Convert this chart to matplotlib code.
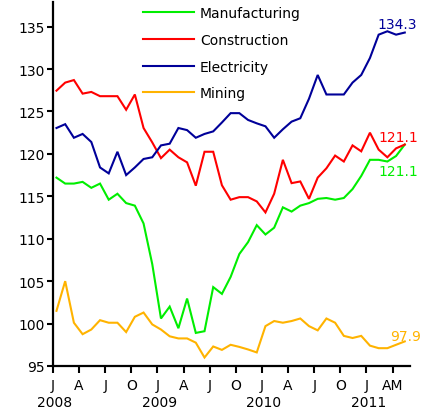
import numpy as np
import matplotlib
matplotlib.use("Agg")
import matplotlib.pyplot as plt
import matplotlib.transforms as mtransforms

plt.rcParams['font.family'] = ['DejaVu Sans']

series_names = ["Manufacturing", "Construction", "Electricity", "Mining"]
colors = ["#00EE00", "#FF0000", "#000099", "#FFB300"]

manufacturing = [117.2, 116.5, 116.5, 116.7, 116.0, 116.5, 114.6, 115.3, 114.2, 113.9,
                 111.8, 107.0, 100.6, 102.0, 99.45, 102.95, 98.9, 99.1, 104.3, 103.5,
                 105.5, 108.2, 109.6, 111.6, 110.5, 111.3, 113.7, 113.2, 113.9, 114.2,
                 114.7, 114.8, 114.6, 114.8, 115.85, 117.4, 119.3, 119.3, 119.1, 119.75, 121.1]
construction = [127.45, 128.4, 128.7, 127.1, 127.3, 126.8, 126.8, 126.8, 125.2, 127.0,
                123.05, 121.35, 119.5, 120.5, 119.6, 119.0, 116.25, 120.25, 120.25, 116.3,
                114.6, 114.9, 114.9, 114.4, 113.1, 115.3, 119.3, 116.55, 116.75, 114.7,
                117.2, 118.3, 119.8, 119.1, 121.0, 120.3, 122.5, 120.5, 119.6, 120.65, 121.1]
electricity = [123.05, 123.5, 121.9, 122.35, 121.4, 118.4, 117.7, 120.25, 117.5, 118.4,
               119.4, 119.6, 121.0, 121.2, 123.05, 122.8, 121.9, 122.35, 122.65, 123.7,
               124.8, 124.8, 124.0, 123.6, 123.25, 121.9, 122.9, 123.8, 124.2, 126.5,
               129.3, 127.0, 127.0, 127.0, 128.4, 129.3, 131.3, 134.05, 134.45, 134.05, 134.3]
mining = [101.5, 105.0, 100.1, 98.75, 99.3, 100.4, 100.1, 100.1, 99.0, 100.8,
          101.3, 99.9, 99.3, 98.5, 98.25, 98.25, 97.75, 96.0, 97.3, 96.9,
          97.5, 97.25, 96.95, 96.6, 99.7, 100.3, 100.1, 100.3, 100.6, 99.7,
          99.2, 100.6, 100.1, 98.55, 98.3, 98.55, 97.4, 97.1, 97.1, 97.5, 97.9]

end_labels = ["121.1", "121.1", "134.3", "97.9"]
month_tick_labels = ["J", "A", "J", "O", "J", "A", "J", "O", "J", "A", "J", "O", "J", "AM"]
month_tick_index = [0, 3, 6, 9, 12, 15, 18, 21, 24, 27, 30, 33, 36, 39]
year_labels = ["2008", "2009", "2010", "2011"]
year_index = [0, 12, 24, 36]
y_ticks = [95, 100, 105, 110, 115, 120, 125, 130, 135]

data = [manufacturing, construction, electricity, mining]

fig = plt.figure(figsize=(4.26, 4.14), dpi=100)
ax = fig.add_axes([53/426, 47/414, 357/426, 364/414])

x = np.arange(len(manufacturing))
for name, vals, c in zip(series_names, data, colors):
    ax.plot(x, vals, color=c, lw=1.5, label=name, solid_joinstyle='miter')

ax.set_xlim(-0.4, 40.6)
ax.set_ylim(95, 137.9)
ax.set_yticks(y_ticks)
ax.set_yticklabels([str(v) for v in y_ticks], fontsize=10)
ax.set_xticks([i - 0.4 for i in month_tick_index])
ax.set_xticklabels(month_tick_labels, fontsize=10)
ax.tick_params(axis='y', direction='out', length=4, width=1.5, pad=2)
ax.tick_params(axis='x', direction='out', length=5, width=1.5, pad=4)
for s in ['top', 'right']:
    ax.spines[s].set_visible(False)
for s in ['left', 'bottom']:
    ax.spines[s].set_linewidth(1.6)

trans = mtransforms.blended_transform_factory(ax.transData, ax.transAxes)
for lab, idx in zip(year_labels, year_index):
    ax.text(idx - 0.2, -0.099, lab, transform=trans, ha='center', va='center', fontsize=10)

# end labels
offsets = [(-0.7, -3.1), (-0.7, 0.9), (-0.9, 1.0), (0.1, 0.6)]
for vals, c, lab, (dx, dy) in zip(data, colors, end_labels, offsets):
    ax.text(x[-1] + dx, vals[-1] + dy, lab, color=c, fontsize=10, ha='center', va='center',
            clip_on=False)

leg = ax.legend(loc='upper left', bbox_to_anchor=(143/426, 1 - 7/414),
                bbox_transform=fig.transFigure, frameon=False, fontsize=10,
                handlelength=3.7, handletextpad=0.4, labelspacing=0.92,
                borderpad=0, borderaxespad=0)

fig.savefig("out.png", dpi=100)
